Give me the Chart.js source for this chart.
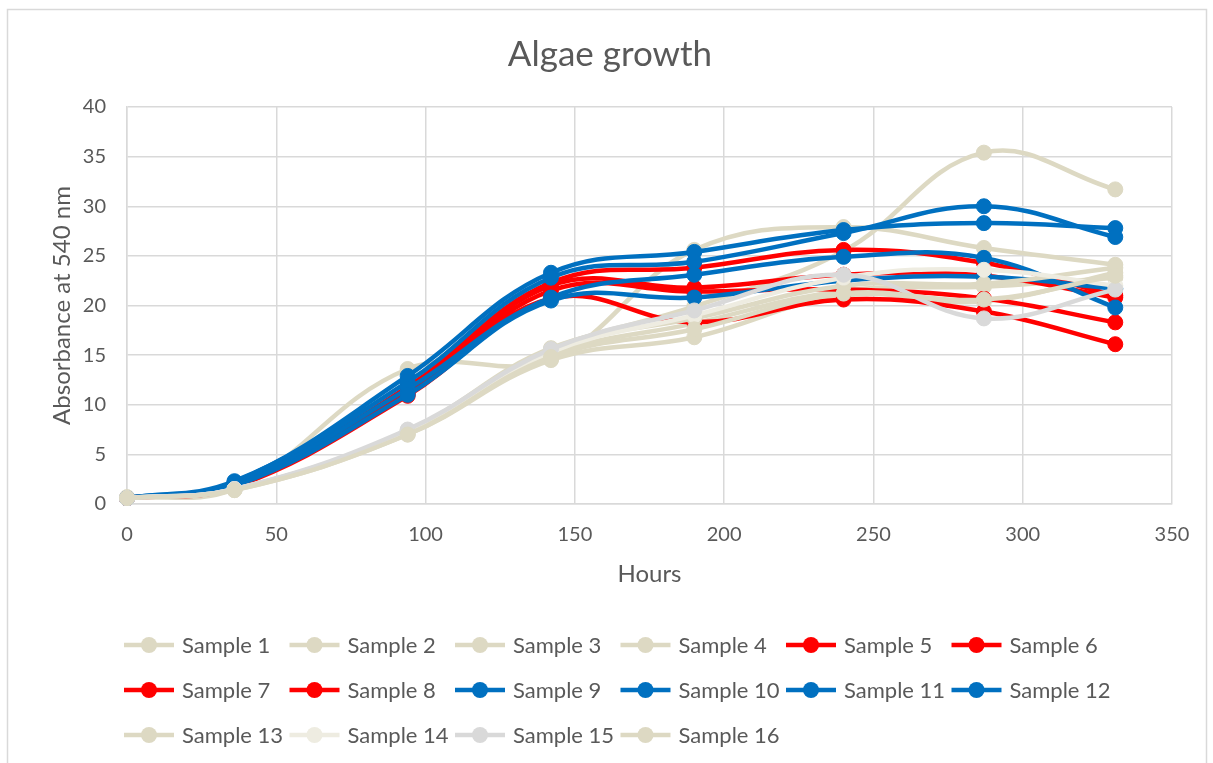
<!DOCTYPE html>
<html>
<head>
<meta charset="utf-8">
<script src="https://cdn.jsdelivr.net/npm/chart.js@4/dist/chart.umd.min.js"></script>
<style>
  html, body { margin: 0; padding: 0; background: #ffffff; }
  #wrap { width: 1213px; height: 763px; }
</style>
</head>
<body>
<div id="wrap"><canvas id="chart" width="1213" height="763"></canvas></div>
<script>
// Sampling times (hours)
const hours = [0, 36, 94, 142, 190, 240, 287, 331];

// Absorbance at 540 nm for each sample
const sample1  = [0.6, 1.5, 13.6, 14.6, 25.6, 27.9, 25.8, 24.1];
const sample2  = [0.6, 1.5, 7.3, 15.5, 19.9, 25.5, 35.4, 31.7];
const sample3  = [0.7, 1.4, 7.0, 14.5, 16.8, 21.0, 20.4, 23.3];
const sample4  = [0.6, 1.5, 7.1, 15.0, 18.2, 21.5, 21.9, 22.8];
const sample5  = [0.6, 2.0, 11.8, 22.3, 23.8, 25.6, 24.3, 21.0];
const sample6  = [0.6, 1.9, 11.3, 22.0, 21.8, 23.1, 23.0, 20.8];
const sample7  = [0.6, 1.8, 11.1, 21.5, 21.4, 21.6, 20.7, 18.3];
const sample8  = [0.6, 1.7, 10.9, 20.7, 18.3, 20.6, 19.4, 16.1];
const sample9  = [0.6, 2.2, 12.9, 23.3, 25.4, 27.6, 28.3, 27.8];
const sample10 = [0.6, 2.3, 12.3, 22.8, 24.4, 27.3, 30.0, 26.9];
const sample11 = [0.6, 2.0, 11.6, 20.8, 23.1, 24.9, 24.8, 19.8];
const sample12 = [0.6, 1.8, 11.0, 20.5, 20.8, 22.5, 22.9, 21.7];
const sample13 = [0.6, 1.5, 7.4, 15.7, 18.7, 22.0, 22.2, 23.8];
const sample14 = [0.6, 1.5, 7.2, 15.3, 19.0, 22.8, 23.6, 22.0];
const sample15 = [0.6, 1.5, 7.5, 15.6, 19.5, 23.1, 18.7, 21.6];
const sample16 = [0.6, 1.4, 7.0, 14.8, 17.6, 21.2, 20.6, 23.0];

const seriesNames = ['Sample 1','Sample 2','Sample 3','Sample 4','Sample 5','Sample 6','Sample 7','Sample 8',
                     'Sample 9','Sample 10','Sample 11','Sample 12','Sample 13','Sample 14','Sample 15','Sample 16'];
const seriesValues = [sample1, sample2, sample3, sample4, sample5, sample6, sample7, sample8,
                      sample9, sample10, sample11, sample12, sample13, sample14, sample15, sample16];

// Axis ticks
const xTicks = [0, 50, 100, 150, 200, 250, 300, 350];
const yTicks = [0, 5, 10, 15, 20, 25, 30, 35, 40];

const BEIGE = '#DDD9C3', LIGHT = '#EEECE1', GREY = '#D9D9D9', RED = '#FF0000', BLUE = '#0070C0';
const seriesColors = [BEIGE, BEIGE, BEIGE, BEIGE, RED, RED, RED, RED,
                      BLUE, BLUE, BLUE, BLUE, BEIGE, LIGHT, GREY, BEIGE];

const TEXT = '#595959';
const FONT = 'Lato, "Open Sans", sans-serif';

const datasets = seriesValues.map((vals, i) => ({
  label: seriesNames[i],
  data: vals.map((v, k) => ({ x: hours[k], y: v })),
  borderColor: seriesColors[i],
  backgroundColor: seriesColors[i],
  pointBackgroundColor: seriesColors[i],
  pointBorderColor: seriesColors[i],
  borderWidth: 4.5,
  pointRadius: 7.5,
  pointBorderWidth: 1,
  tension: 0.4,
  fill: false,
  clip: false,
  order: seriesValues.length - i   // later samples sit on top
}));

// Outer frame of the chart
const framePlugin = {
  id: 'frame',
  beforeDraw(chart) {
    const ctx = chart.ctx;
    ctx.save();
    ctx.fillStyle = '#ffffff';
    ctx.fillRect(0, 0, chart.width, chart.height);
    ctx.strokeStyle = '#D9D9D9';
    ctx.lineWidth = 1.5;
    ctx.strokeRect(7.5, 9.5, 1199, 800);
    ctx.restore();
  }
};

// Legend laid out in fixed columns, three rows
const gridLegend = {
  id: 'gridLegend',
  afterDraw(chart) {
    const ctx = chart.ctx;
    ctx.save();
    ctx.font = '22px ' + FONT;
    ctx.textBaseline = 'middle';
    ctx.textAlign = 'left';
    chart.data.datasets.forEach((ds, i) => {
      const col = i % 6, row = Math.floor(i / 6);
      const x0 = 124 + col * 165.5;
      const y = 645 + row * 45;
      ctx.strokeStyle = ds.borderColor;
      ctx.lineWidth = 4.5;
      ctx.beginPath();
      ctx.moveTo(x0, y);
      ctx.lineTo(x0 + 50, y);
      ctx.stroke();
      ctx.fillStyle = ds.borderColor;
      ctx.beginPath();
      ctx.arc(x0 + 25, y, 8, 0, Math.PI * 2);
      ctx.fill();
      ctx.fillStyle = TEXT;
      ctx.fillText(ds.label, x0 + 58, y + 1);
    });
    ctx.restore();
  }
};

new Chart(document.getElementById('chart'), {
  type: 'line',
  data: { datasets },
  plugins: [framePlugin, gridLegend],
  options: {
    responsive: false,
    animation: false,
    layout: { padding: { top: 0, left: 48, right: 41, bottom: 174 } },
    plugins: {
      legend: { display: false },
      tooltip: { enabled: false },
      title: {
        display: true,
        text: 'Algae growth',
        color: TEXT,
        font: { family: FONT, size: 35, weight: 'normal' },
        padding: { top: 34, bottom: 31 }
      }
    },
    scales: {
      x: {
        type: 'linear',
        min: 0, max: 350,
        afterBuildTicks(scale) { scale.ticks = xTicks.map(v => ({ value: v })); },
        afterFit(scale) { scale.height = 85; },
        grid: { color: '#D9D9D9', lineWidth: 1.5, drawTicks: false },
        border: { color: '#D9D9D9', width: 1.5 },
        ticks: { color: TEXT, font: { family: FONT, size: 20 }, padding: 19 },
        title: {
          display: true, text: 'Hours', color: TEXT,
          font: { family: FONT, size: 24 }, padding: { top: 0, bottom: 0 }
        }
      },
      y: {
        min: 0, max: 40,
        afterBuildTicks(scale) { scale.ticks = yTicks.map(v => ({ value: v })); },
        afterFit(scale) { scale.width = 79; },
        grid: { color: '#D9D9D9', lineWidth: 1.5, drawTicks: false },
        border: { color: '#D9D9D9', width: 1.5 },
        ticks: { color: TEXT, font: { family: FONT, size: 20 }, padding: 21 },
        title: {
          display: true, text: 'Absorbance at 540 nm', color: TEXT,
          font: { family: FONT, size: 24 }, padding: { top: 0, bottom: 0 }
        }
      }
    }
  }
});
</script>
</body>
</html>
